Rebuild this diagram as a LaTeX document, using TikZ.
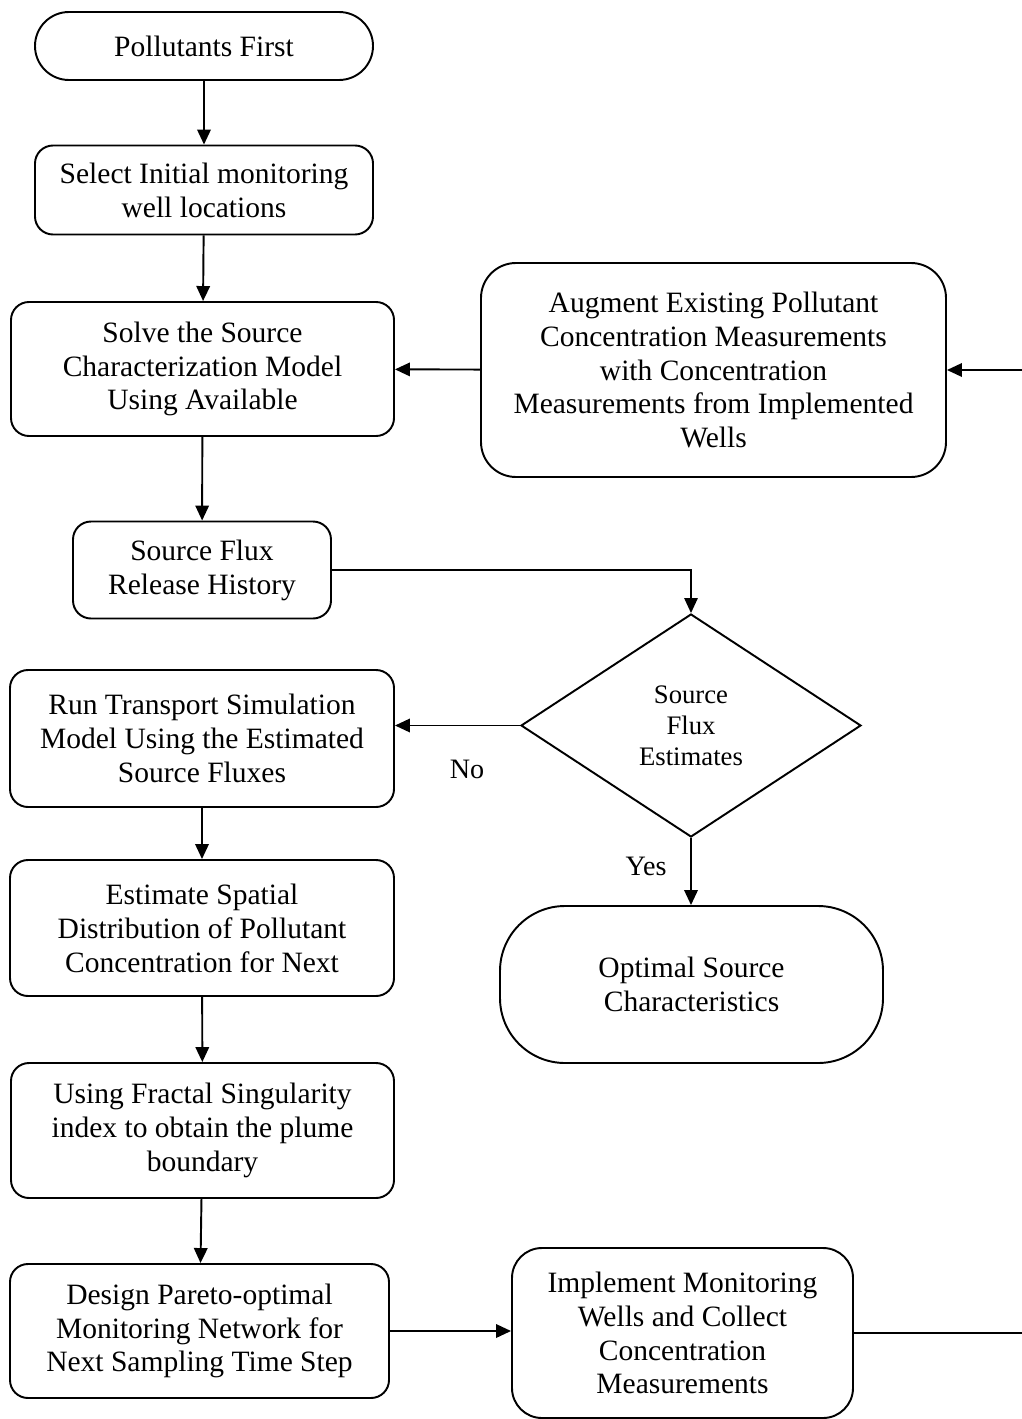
\documentclass[tikz,border=0pt]{standalone}
\usepackage{fontspec}
\setmainfont{Liberation Serif}
\usetikzlibrary{arrows.meta,shapes.geometric}
\begin{document}
\begin{tikzpicture}[x=0.02cm,y=-0.02cm,
  line width=1.1pt,
  every node/.style={font=\fontsize{16.8}{19.3}\selectfont, align=center, inner sep=0pt},
  sz/.style n args={2}{minimum width=#1*0.02cm, minimum height=#2*0.02cm},
  stepbox/.style={draw, rectangle, rounded corners=0.36cm},
  flow/.style={-{Triangle[length=0.3cm,width=0.27cm]}}
]
\useasboundingbox (0,0) rectangle (1021,1419);

% process column
\node[stepbox, sz={338}{68}, rounded corners=0.68cm] (start) at (204,46) {Pollutants First};
\node[stepbox, sz={338}{89}] (select) at (204,190) {Select Initial monitoring\\well locations};
\node[stepbox, sz={383}{134}] (solve) at (202.5,369) {Solve the Source\\Characterization Model\\Using Available};
\node[stepbox, sz={465}{214}, rounded corners=0.7cm] (augment) at (713.5,370) {Augment Existing Pollutant\\Concentration Measurements\\with Concentration\\Measurements from Implemented\\Wells};
\node[stepbox, sz={258}{97}] (flux) at (202,570) {Source Flux\\Release History};
\node[draw, diamond, sz={340}{223}, aspect=1.52,
      font=\fontsize{15.2}{17.6}\selectfont] (decide) at (691,725.5) {Source\\Flux\\Estimates};
\node[stepbox, sz={384}{137}] (run) at (202,738.5) {Run Transport Simulation\\Model Using the Estimated\\Source Fluxes};
\node[stepbox, sz={384}{136}] (estimate) at (202,928) {Estimate Spatial\\Distribution of Pollutant\\Concentration for Next};
\node[stepbox, sz={383}{157}, rounded corners=1.3cm] (optimal) at (691.5,984.5) {Optimal Source\\Characteristics};
\node[stepbox, sz={383}{135}] (fractal) at (202.5,1130.5) {Using Fractal Singularity\\index to obtain the plume\\boundary};
\node[stepbox, sz={379}{134}] (design) at (199.5,1331) {Design Pareto-optimal\\Monitoring Network for\\Next Sampling Time Step};
\node[stepbox, sz={341}{170}, rounded corners=0.6cm] (implement) at (682.5,1333) {Implement Monitoring\\Wells and Collect\\Concentration\\Measurements};

% connectors
\draw[flow] (start) -- (select);
\draw[flow] (select) -- (solve);
\draw[flow] (augment) -- (solve);
\draw[flow] (solve) -- (flux);
\draw[flow, line width=0.8pt] (flux.east) -- (flux.east -| decide.north) -- (decide.north);
\draw[flow] (decide.west) -- (decide.west -| run.east);
\draw[flow] (decide.south) -- (decide.south |- optimal.north);
\draw[flow] (run) -- (estimate);
\draw[flow] (estimate) -- (fractal);
\draw[flow] (fractal) -- (design);
\draw[flow] (design) -- (design.east -| implement.west);
\coordinate (loop) at (1030,1333);
\draw[flow] (implement.east) -- (loop) -- (loop |- augment.east) -- (augment.east);

% branch labels
\node[font=\fontsize{16}{19}\selectfont] (no) at (467,769) {No};
\node[font=\fontsize{16}{19}\selectfont] (yes) at (646,866) {Yes};
\end{tikzpicture}
\end{document}
